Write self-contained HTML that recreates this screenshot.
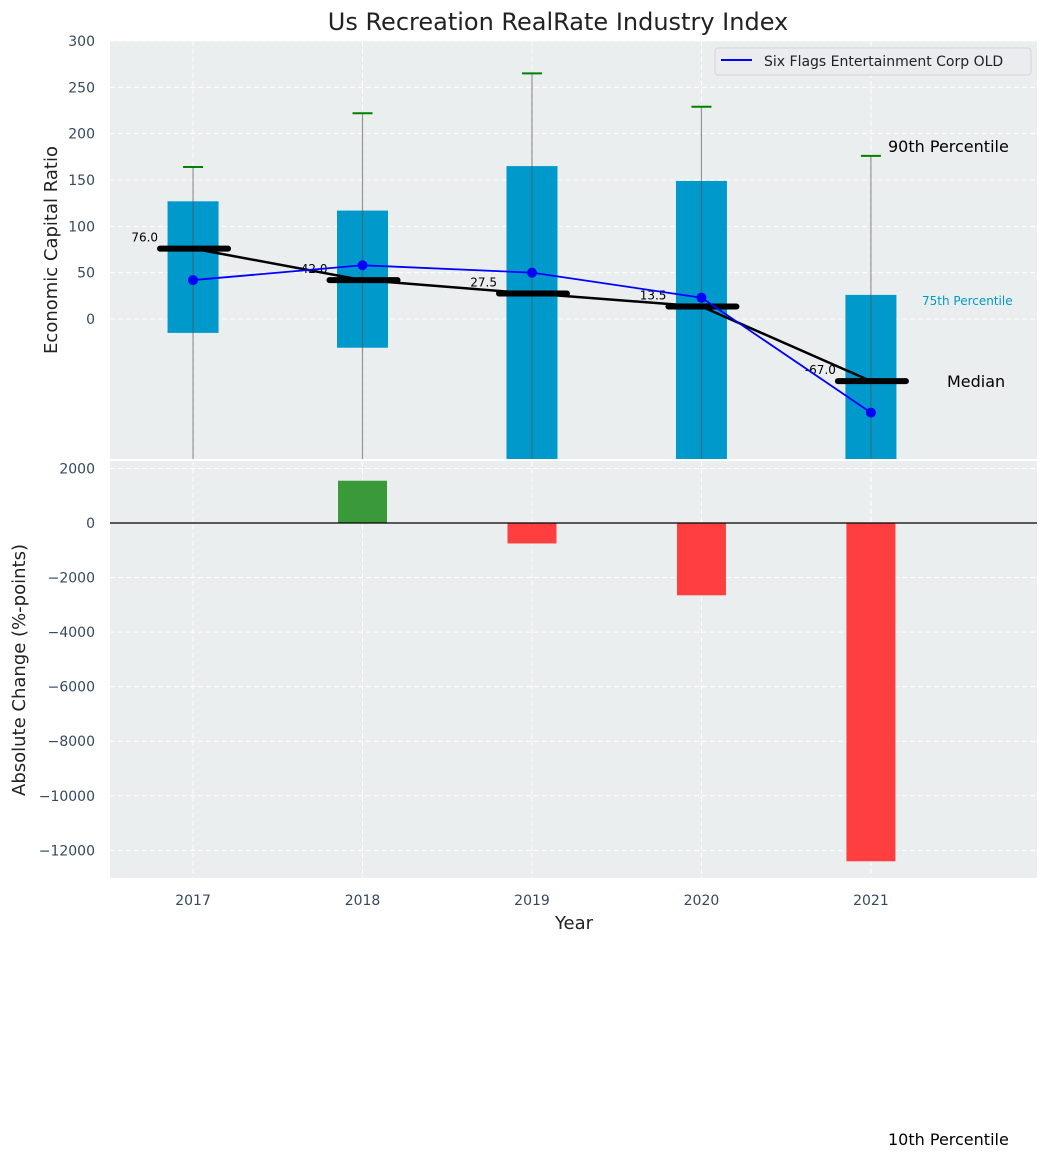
<!DOCTYPE html>
<html><head><meta charset="utf-8"><style>
body{margin:0;background:#fff;}
svg text{font-family:"DejaVu Sans","Liberation Sans",sans-serif;}
</style></head><body>
<svg id="chart" width="1048" height="1159" xmlns="http://www.w3.org/2000/svg"></svg>
<script>
const years=["2017","2018","2019","2020","2021"];
const q75=[127,117,165,149,26];
const q25=[-15,-31,-200,-200,-200];
const p90=[164,222,265,229,176];
const medians=[76,42,27.5,13.5,-67];
const sixFlags=[42,58,50,23,-101];
const absChange=[0,1550,-750,-2650,-12400];
const topTicks=[0,50,100,150,200,250,300];
const botTicks=[-12000,-10000,-8000,-6000,-4000,-2000,0,2000];

const NS="http://www.w3.org/2000/svg";
const svg=document.getElementById('chart');
function el(tag,attrs,parent){const e=document.createElementNS(NS,tag);for(const k in attrs)e.setAttribute(k,attrs[k]);(parent||svg).appendChild(e);return e;}
const fmt=v=>String(v).replace('-','\u2212');
const X0=110,X1=1037;
const xs=i=>X0+(i+0.49)*(X1-X0)/5.47;
const T0=41,T1=459;
const yT=v=>319-v*(319-41)/300;
const B0=461,B1=878;
const yB=v=>523-v*0.02728;

let bg=el('rect',{x:X0,y:T0,width:X1-X0,height:T1-T0,fill:'#eaeeee'});

let bg2=el('rect',{x:X0,y:B0,width:X1-X0,height:B1-B0,fill:'#eaeeee'});


const defs=el('defs',{});
const cp=el('clipPath',{id:'ct'},defs);el('rect',{x:X0,y:T0,width:X1-X0,height:T1-T0},cp);
const gT=el('g',{'clip-path':'url(#ct)'});
const gB=el('g',{});

topTicks.forEach(v=>{el('line',{x1:X0,x2:X1,y1:yT(v),y2:yT(v),stroke:'#fff','stroke-dasharray':'5,3','stroke-width':1},gT);
 const t=el('text',{x:95,y:yT(v)+5,'text-anchor':'end','font-size':14,fill:'#34495e'});t.textContent=fmt(v);
 });
botTicks.forEach(v=>{el('line',{x1:X0,x2:X1,y1:yB(v),y2:yB(v),stroke:'#fff','stroke-dasharray':'5,3','stroke-width':1},gB);
 const t=el('text',{x:95,y:yB(v)+5,'text-anchor':'end','font-size':14,fill:'#34495e'});t.textContent=fmt(v);
 });
years.forEach((y,i)=>{el('line',{x1:xs(i),x2:xs(i),y1:T0,y2:T1,stroke:'#fff','stroke-dasharray':'5,3'},gT);
 el('line',{x1:xs(i),x2:xs(i),y1:B0,y2:B1,stroke:'#fff','stroke-dasharray':'5,3'},gB);
 const t=el('text',{x:xs(i),y:905,'text-anchor':'middle','font-size':14,fill:'#34495e'});t.textContent=y;
 });

years.forEach((y,i)=>{
 const b=el('rect',{x:xs(i)-25.5,y:yT(q75[i]),width:51,height:yT(q25[i])-yT(q75[i]),fill:'#0099cc'},gT);
 
 el('line',{x1:xs(i),x2:xs(i),y1:yT(p90[i]),y2:T1,stroke:'#555','stroke-opacity':0.6,'stroke-width':1.2},gT);
 const w=el('line',{x1:xs(i)-10,x2:xs(i)+10,y1:yT(p90[i]),y2:yT(p90[i]),stroke:'green','stroke-width':2},gT);
 
});
el('polyline',{points:medians.map((m,i)=>xs(i)+','+yT(m)).join(' '),fill:'none',stroke:'#000','stroke-width':2.5},gT);
medians.forEach((m,i)=>{
 const l=el('line',{x1:xs(i)-33,x2:xs(i)+35,y1:yT(m),y2:yT(m),stroke:'#000','stroke-width':6,'stroke-linecap':'round'},gT);
 
 const t=el('text',{x:xs(i)-35,y:yT(m)-7,'text-anchor':'end','font-size':12,fill:'#000'},gT);t.textContent=m.toFixed(1);
 
});
const sl=el('polyline',{points:sixFlags.map((v,i)=>xs(i)+','+yT(v)).join(' '),fill:'none',stroke:'#0000ff','stroke-width':1.8},gT);

sixFlags.forEach((v,i)=>{const c=el('circle',{cx:xs(i),cy:yT(v),r:5,fill:'#0000ff'},gT);
 });

absChange.forEach((v,i)=>{if(v===0)return;
 const r=el('rect',{x:xs(i)-24.5,y:Math.min(yB(v),yB(0)),width:49,height:Math.abs(yB(v)-yB(0)),fill:v>0?'#3a9a3a':'#ff3f3f'},gB);
 });
el('line',{x1:X0,x2:X1,y1:yB(0),y2:yB(0),stroke:'#000','stroke-width':1.2},gB);

function txt(x,y,s,size,fill,name,anchor){const t=el('text',{x:x,y:y,'font-size':size,fill:fill,'text-anchor':anchor||'start'});t.textContent=s;
 return t;}
txt(558,30,'Us Recreation RealRate Industry Index',24,'#222','chart-title','middle');
txt(888,152,'90th Percentile',16,'#000','label-90th');
txt(922,305,'75th Percentile',12,'#0099cc','label-75th');
txt(947,387,'Median',16,'#000','label-median');
txt(888,1145,'10th Percentile',16,'#000','label-10th');
txt(574,929,'Year',18,'#222','x-axis-title','middle');
let ya=txt(0,0,'Economic Capital Ratio',18,'#222','y-axis-title','middle');ya.setAttribute('transform','translate(57,250) rotate(-90)');
let yb=txt(0,0,'Absolute Change (%-points)',18,'#222','y2-axis-title','middle');yb.setAttribute('transform','translate(25,670) rotate(-90)');

const lg=el('g',{});
el('rect',{x:715,y:48,width:316,height:27,rx:3,fill:'#eaecf0',stroke:'#d4d6da'},lg);
el('line',{x1:721,x2:752,y1:60,y2:60,stroke:'#0000ff','stroke-width':2},lg);
const lt=el('text',{x:764,y:66,'font-size':14,fill:'#222'},lg);lt.textContent='Six Flags Entertainment Corp OLD';

</script>
</body></html>
